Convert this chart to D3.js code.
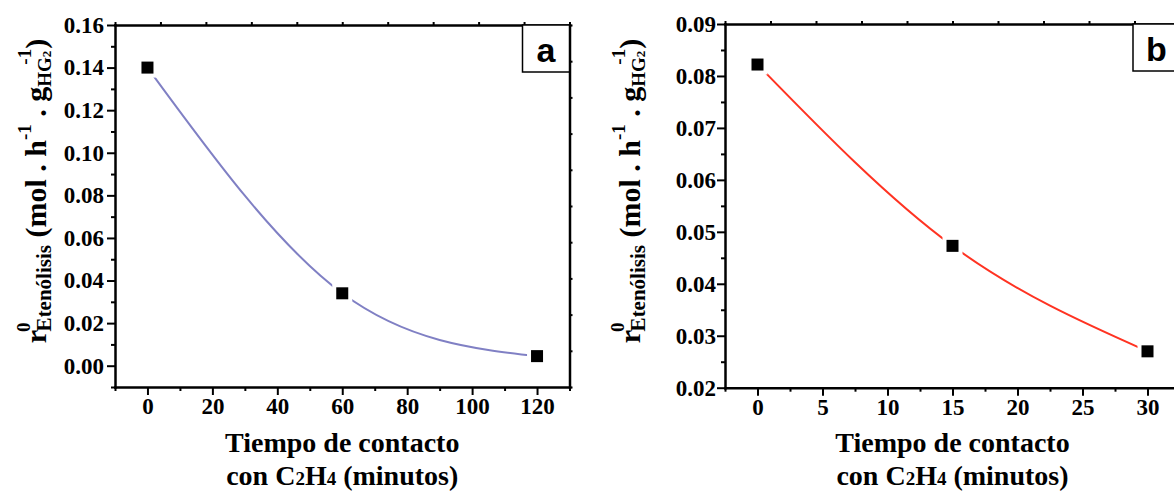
<!DOCTYPE html>
<html><head><meta charset="utf-8">
<script src="https://cdn.jsdelivr.net/npm/d3@7"></script>
<style>
body{margin:0;background:#fff;}
svg{display:block;overflow:hidden;}
</style></head>
<body>
<svg id="chart" width="1174" height="491"></svg>
<script>
// ---- data ----
const timeA = [0, 60, 120];
const rateA = [0.140, 0.034, 0.0045];
const timeB = [0, 15, 30];
const rateB = [0.0822, 0.0473, 0.0270];

const xTicksA = [0, 20, 40, 60, 80, 100, 120];
const xMinorA = [-10, 10, 30, 50, 70, 90, 110, 130];
const yTicksA = [0.00, 0.02, 0.04, 0.06, 0.08, 0.10, 0.12, 0.14, 0.16];
const yMinorA = [-0.01, 0.01, 0.03, 0.05, 0.07, 0.09, 0.11, 0.13, 0.15];
const xTicksB = [0, 5, 10, 15, 20, 25, 30];
const xMinorB = [-2.5, 2.5, 7.5, 12.5, 17.5, 22.5, 27.5, 32.5];
const yTicksB = [0.02, 0.03, 0.04, 0.05, 0.06, 0.07, 0.08, 0.09];
const yMinorB = [0.025, 0.035, 0.045, 0.055, 0.065, 0.075, 0.085];
const mirrorTicks = [0,1,2,3,4,5,6,7,8,9,10];

const svg = d3.select("#chart");
const SERIF = "Liberation Serif";
const SANS = "Liberation Sans";

function panel(cfg) {
  const g = svg.append("g");
  const x = d3.scaleLinear().domain(cfg.xDom).range([cfg.left, cfg.right]);
  const y = d3.scaleLinear().domain(cfg.yDom).range([cfg.bottom, cfg.top]);
  const mx = d3.scaleLinear().domain([0, 10]).range([cfg.left, cfg.right]);
  const my = d3.scaleLinear().domain([0, 10]).range([cfg.bottom, cfg.top]);

  function style(sel, w) {
    sel.attr("font-family", SERIF).attr("font-weight", "bold").attr("font-size", 23);
    sel.selectAll(".domain").attr("stroke", "#000").attr("stroke-width", w).attr("stroke-linecap", "square");
    sel.selectAll(".tick line").attr("stroke", "#000").attr("stroke-width", 2);
    sel.selectAll(".tick text").attr("font-family", SERIF).attr("font-weight", "bold").attr("font-size", 23).attr("fill", "#000");
  }
  // minor ticks
  style(g.append("g").attr("transform", `translate(0,${cfg.bottom})`)
    .call(d3.axisBottom(x).tickValues(cfg.xMinor).tickSize(4).tickFormat("").tickSizeOuter(0)), 0);
  style(g.append("g").attr("transform", `translate(${cfg.left},0)`)
    .call(d3.axisLeft(y).tickValues(cfg.yMinor).tickSize(4).tickFormat("").tickSizeOuter(0)), 0);
  // mirror axes
  style(g.append("g").attr("transform", `translate(0,${cfg.top})`)
    .call(d3.axisTop(mx).tickValues(mirrorTicks).tickSize(3).tickFormat("").tickSizeOuter(0)), 2.5);
  style(g.append("g").attr("transform", `translate(${cfg.right},0)`)
    .call(d3.axisRight(my).tickValues(mirrorTicks).tickSize(3).tickFormat("").tickSizeOuter(0)), 2.5);
  // major
  style(g.append("g").attr("transform", `translate(0,${cfg.bottom})`)
    .call(d3.axisBottom(x).tickValues(cfg.xTicks).tickSize(8).tickPadding(3).tickFormat(d3.format("d")).tickSizeOuter(0)), 2.5);
  style(g.append("g").attr("transform", `translate(${cfg.left},0)`)
    .call(d3.axisLeft(y).tickValues(cfg.yTicks).tickSize(8).tickPadding(cfg.yPad).tickFormat(d3.format(".2f")).tickSizeOuter(0)), 2.5);

  // curve
  const pts = cfg.xs.map((d, i) => [d, cfg.ys[i]]);
  g.append("path").datum(pts)
    .attr("fill", "none").attr("stroke", cfg.color).attr("stroke-width", 2)
    .attr("d", d3.line().x(d => x(d[0])).y(d => y(d[1])).curve(d3.curveNatural));
  // markers
  const s = 12, h = 20;
  g.selectAll(".halo").data(pts).join("rect")
    .attr("x", d => x(d[0]) - h / 2).attr("y", d => y(d[1]) - h / 2)
    .attr("width", h).attr("height", h).attr("fill", "#fff");
  g.selectAll(".mk").data(pts).join("rect")
    .attr("x", d => x(d[0]) - s / 2).attr("y", d => y(d[1]) - s / 2)
    .attr("width", s).attr("height", s).attr("fill", "#000");

  // label box
  g.append("rect").attr("x", cfg.right - 47).attr("y", cfg.top).attr("width", 47).attr("height", 47)
    .attr("fill", "#fff").attr("stroke", "#000").attr("stroke-width", 1.5);
  g.append("text").attr("x", cfg.right - 23.5).attr("y", cfg.top + 37).attr("text-anchor", "middle")
    .attr("font-family", SANS).attr("font-weight", "bold").attr("font-size", 34).text(cfg.label);

  // x title
  const cx = (cfg.left + cfg.right) / 2;
  g.append("text").attr("x", cx).attr("y", 452).attr("text-anchor", "middle")
    .attr("font-family", SERIF).attr("font-weight", "bold").attr("font-size", 28).text("Tiempo de contacto");
  const t2 = g.append("text").attr("x", cx).attr("y", 485).attr("text-anchor", "middle")
    .attr("font-family", SERIF).attr("font-weight", "bold").attr("font-size", 28);
  t2.append("tspan").text("con C");
  t2.append("tspan").attr("font-size", 19).text("2");
  t2.append("tspan").text("H");
  t2.append("tspan").attr("font-size", 19).text("4");
  t2.append("tspan").text(" (minutos)");

  // y title
  const yt = g.append("text").attr("transform", `translate(${cfg.ytx},191) rotate(-90)`)
    .attr("text-anchor", "middle").attr("font-family", SERIF).attr("font-weight", "bold").attr("font-size", 30);
  yt.append("tspan").text("r");
  yt.append("tspan").attr("font-size", 19).attr("dx", -2).attr("dy", -16).text("0");
  yt.append("tspan").attr("font-size", 21).attr("dx", -9).attr("dy", 21).text("Etenólisis");
  yt.append("tspan").attr("dy", -5).text(" (mol . h");
  yt.append("tspan").attr("font-size", 19).attr("dy", -15).text("-1");
  yt.append("tspan").attr("dy", 15).text(" . g");
  yt.append("tspan").attr("font-size", 19).attr("dy", 5).text("HG");
  yt.append("tspan").attr("font-size", 13).text("2");
  yt.append("tspan").attr("font-size", 19).attr("dx", -14).attr("dy", -20).text("-1");
  yt.append("tspan").attr("dy", 15).text(")");
}

panel({xDom: [-10, 130], yDom: [-0.01, 0.16], left: 115, right: 569.5, top: 25, bottom: 387,
  xTicks: xTicksA, xMinor: xMinorA, yTicks: yTicksA, yMinor: yMinorA, yPad: 3,
  xs: timeA, ys: rateA, color: "#8080c4", label: "a", ytx: 46});
panel({xDom: [-2.5, 32.5], yDom: [0.02, 0.09], left: 725, right: 1180, top: 24, bottom: 387.7,
  xTicks: xTicksB, xMinor: xMinorB, yTicks: yTicksB, yMinor: yMinorB, yPad: 1,
  xs: timeB, ys: rateB, color: "#ff3322", label: "b", ytx: 640});
</script>
</body></html>
